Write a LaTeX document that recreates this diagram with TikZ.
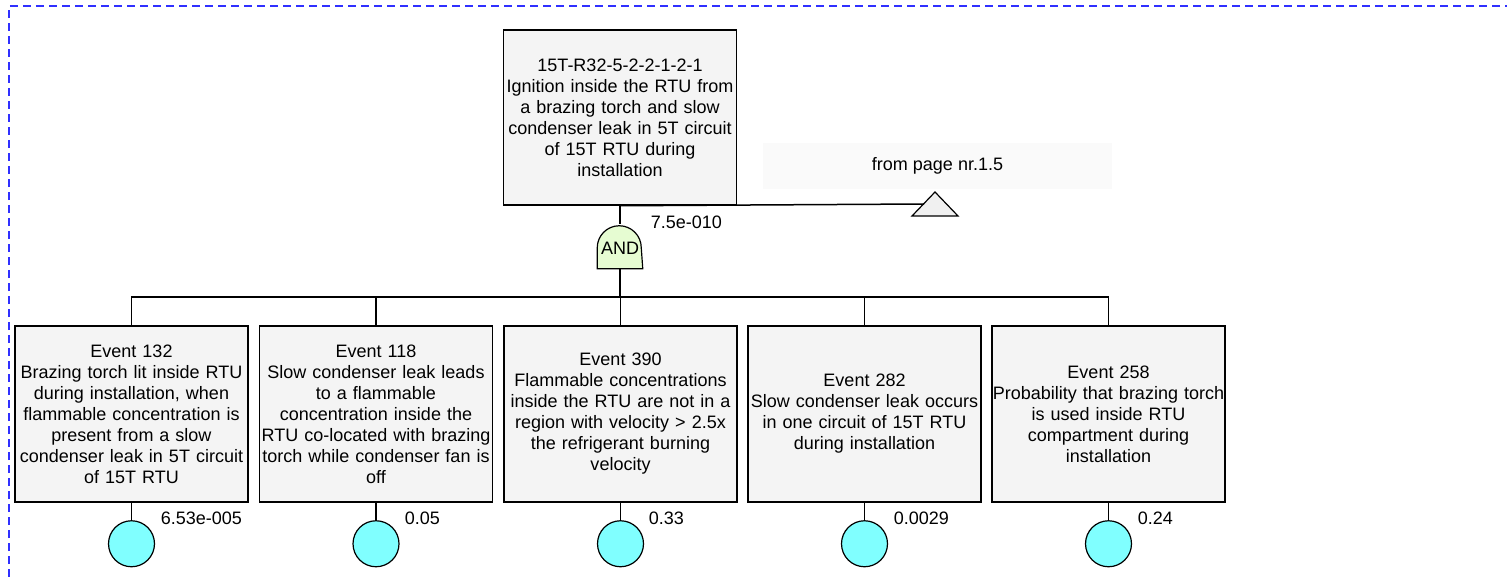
\documentclass[tikz,border=0pt]{standalone}
\usepackage{fontspec}
\setmainfont{Liberation Sans}
\definecolor{boxgray}{HTML}{F4F4F4}
\definecolor{basiccyan}{HTML}{80FFFF}
\definecolor{gategreen}{HTML}{E6FCD2}
\definecolor{framblue}{HTML}{3030FF}

\begin{document}
\begin{tikzpicture}[x=0.5pt,y=-0.5pt,line width=0.75pt,
        every node/.style={font=\fontsize{9pt}{10.5pt}\selectfont},
        eventbox/.style={draw, rectangle, fill=boxgray, minimum width=116.5pt, minimum height=88pt, text width=116pt, align=center, inner sep=0pt},
        basicev/.style={draw, circle, fill=basiccyan, minimum size=23pt, inner sep=0pt, line width=0.6pt},
        prob/.style={anchor=west, inner sep=0pt},
        wire/.style={draw=black}]
        \useasboundingbox (0,0) rectangle (1507,577);
        % page frame
        \draw[framblue, line width=0.6pt, dash pattern=on 4pt off 2.5pt] (9,577) -- (9,6) -- (1507,6);

        % top event and gate
        \node (top) [eventbox, minimum height=87.5pt] at (620,117.5) {15T-R32-5-2-2-1-2-1\\Ignition inside the RTU from\\a brazing torch and slow\\condenser leak in 5T circuit\\of 15T RTU during\\installation};
        \node (and) [minimum width=22pt, minimum height=21.5pt, inner sep=0pt] at (620,246.5) {};
        \draw[fill=gategreen, line width=0.6pt] (and.south west) -- ++(0pt,10.5pt) arc[start angle=180, end angle=0, radius=11pt] -- (and.south east) -- cycle;
        \node at ([yshift=-1pt]and.center) {AND};
        \node (ptop) [prob] at (650,222) {7.5e-010};

        % transfer in
        \node (xferlbl) [fill=gray!4, minimum width=174.5pt, minimum height=23pt] at (937.5,166) {from page nr.1.5};
        \draw[fill=gray!12, line width=0.6pt] (912,216) -- (935,192) -- (958,216) -- cycle;
        \coordinate (xfer) at (924,204);
        \draw[wire] (top.south) -- (xfer);

        % events
        \node (e132) [eventbox] at (131.5,414) {Event 132\\Brazing torch lit inside RTU\\during installation, when\\flammable concentration is\\present from a slow\\condenser leak in 5T circuit\\of 15T RTU};
        \node (e118) [eventbox] at (376,414) {Event 118\\Slow condenser leak leads\\to a flammable\\concentration inside the\\RTU co-located with brazing\\torch while condenser fan is\\off};
        \node (e390) [eventbox] at (620.5,414) {Event 390\\Flammable concentrations\\inside the RTU are not in a\\region with velocity > 2.5x\\the refrigerant burning\\velocity};
        \node (e282) [eventbox] at (864.5,414) {Event 282\\Slow condenser leak occurs\\in one circuit of 15T RTU\\during installation};
        \node (e258) [eventbox] at (1108.5,414) {Event 258\\Probability that brazing torch\\is used inside RTU\\compartment during\\installation};

        \coordinate (bar) at (620,297);
        \draw[wire] (top.south) -- (and.north);
        \draw[wire] (and.south) -- (bar);
        \foreach \e in {e132,e118,e390,e282,e258}{
            \draw[wire] (bar) -| (\e.north);
            \node (c\e) [basicev] at ([yshift=-20.5pt]\e.south) {};
            \draw[wire] (\e.south) -- (c\e.north);
        }
        \node (p132) [prob] at (160,518) {6.53e-005};
        \node (p118) [prob] at (404,518) {0.05};
        \node (p390) [prob] at (648,518) {0.33};
        \node (p282) [prob] at (893,518) {0.0029};
        \node (p258) [prob] at (1137,518) {0.24};
\end{tikzpicture}
\end{document}
